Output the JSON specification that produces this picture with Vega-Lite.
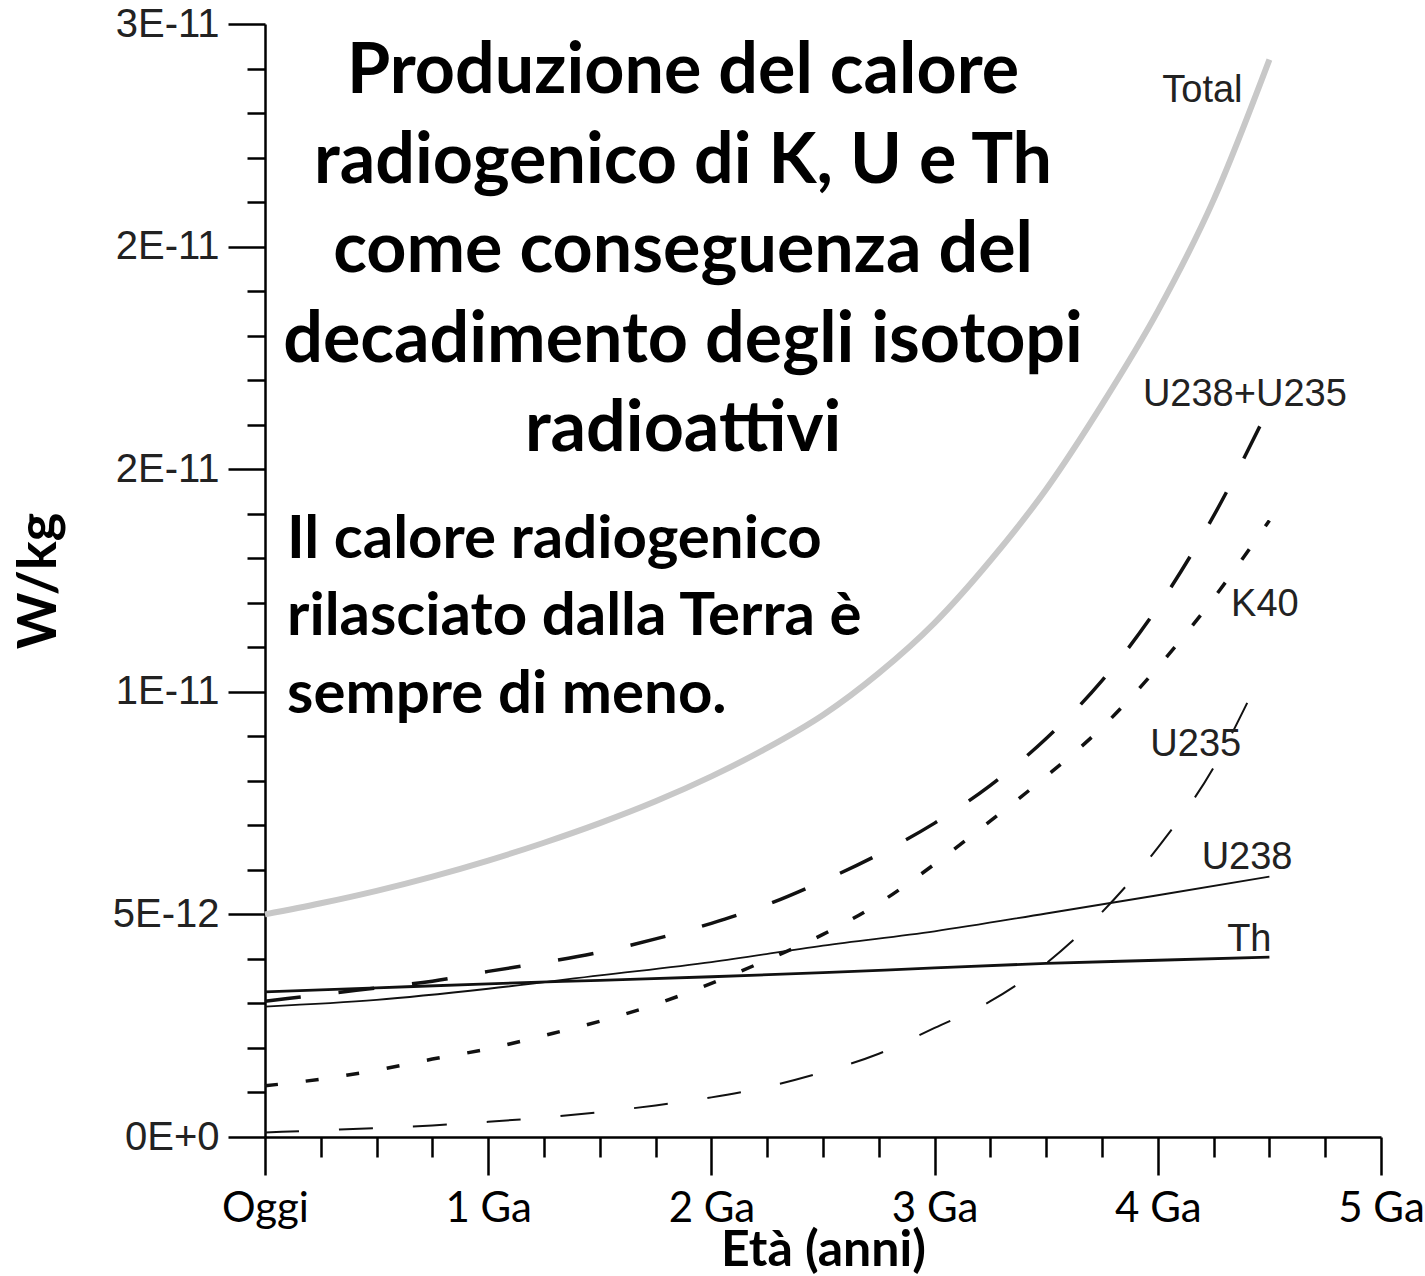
{
  "$schema": "https://vega.github.io/schema/vega-lite/v6.json",
  "width": 1116,
  "height": 1113,
  "autosize": {"type": "none"},
  "padding": {"left": 265, "top": 24, "right": 44, "bottom": 139},
  "background": "white",
  "config": {"view": {"stroke": null}, "axis": {"grid": false}},
  "datasets": {
    "curves": [
      {"series": "Total", "age": 0, "w": 5.0e-12},
      {"series": "Total", "age": 0.25, "w": 5.25e-12},
      {"series": "Total", "age": 0.5, "w": 5.53e-12},
      {"series": "Total", "age": 0.75, "w": 5.85e-12},
      {"series": "Total", "age": 1, "w": 6.21e-12},
      {"series": "Total", "age": 1.25, "w": 6.61e-12},
      {"series": "Total", "age": 1.5, "w": 7.05e-12},
      {"series": "Total", "age": 1.75, "w": 7.54e-12},
      {"series": "Total", "age": 2, "w": 8.1e-12},
      {"series": "Total", "age": 2.25, "w": 8.74e-12},
      {"series": "Total", "age": 2.5, "w": 9.48e-12},
      {"series": "Total", "age": 2.75, "w": 10.42e-12},
      {"series": "Total", "age": 3, "w": 11.55e-12},
      {"series": "Total", "age": 3.25, "w": 12.95e-12},
      {"series": "Total", "age": 3.5, "w": 14.55e-12},
      {"series": "Total", "age": 3.75, "w": 16.45e-12},
      {"series": "Total", "age": 4, "w": 18.55e-12},
      {"series": "Total", "age": 4.25, "w": 21.05e-12},
      {"series": "Total", "age": 4.5, "w": 24.2e-12},
      {"series": "U238+U235", "age": 0, "w": 3.05e-12},
      {"series": "U238+U235", "age": 0.25, "w": 3.2e-12},
      {"series": "U238+U235", "age": 0.5, "w": 3.35e-12},
      {"series": "U238+U235", "age": 0.75, "w": 3.5e-12},
      {"series": "U238+U235", "age": 1, "w": 3.72e-12},
      {"series": "U238+U235", "age": 1.25, "w": 3.92e-12},
      {"series": "U238+U235", "age": 1.5, "w": 4.15e-12},
      {"series": "U238+U235", "age": 1.75, "w": 4.45e-12},
      {"series": "U238+U235", "age": 2, "w": 4.8e-12},
      {"series": "U238+U235", "age": 2.25, "w": 5.22e-12},
      {"series": "U238+U235", "age": 2.5, "w": 5.75e-12},
      {"series": "U238+U235", "age": 2.75, "w": 6.35e-12},
      {"series": "U238+U235", "age": 3, "w": 7.05e-12},
      {"series": "U238+U235", "age": 3.25, "w": 7.9e-12},
      {"series": "U238+U235", "age": 3.5, "w": 8.95e-12},
      {"series": "U238+U235", "age": 3.75, "w": 10.25e-12},
      {"series": "U238+U235", "age": 4, "w": 11.9e-12},
      {"series": "U238+U235", "age": 4.25, "w": 13.95e-12},
      {"series": "U238+U235", "age": 4.5, "w": 16.4e-12},
      {"series": "K40", "age": 0, "w": 1.15e-12},
      {"series": "K40", "age": 0.25, "w": 1.3e-12},
      {"series": "K40", "age": 0.5, "w": 1.5e-12},
      {"series": "K40", "age": 0.75, "w": 1.75e-12},
      {"series": "K40", "age": 1, "w": 1.98e-12},
      {"series": "K40", "age": 1.25, "w": 2.28e-12},
      {"series": "K40", "age": 1.5, "w": 2.6e-12},
      {"series": "K40", "age": 1.75, "w": 2.98e-12},
      {"series": "K40", "age": 2, "w": 3.45e-12},
      {"series": "K40", "age": 2.25, "w": 3.98e-12},
      {"series": "K40", "age": 2.5, "w": 4.55e-12},
      {"series": "K40", "age": 2.75, "w": 5.25e-12},
      {"series": "K40", "age": 3, "w": 6.13e-12},
      {"series": "K40", "age": 3.25, "w": 7.1e-12},
      {"series": "K40", "age": 3.5, "w": 8.1e-12},
      {"series": "K40", "age": 3.75, "w": 9.2e-12},
      {"series": "K40", "age": 4, "w": 10.55e-12},
      {"series": "K40", "age": 4.25, "w": 12.1e-12},
      {"series": "K40", "age": 4.5, "w": 13.85e-12},
      {"series": "U235", "age": 0, "w": 0.1e-12},
      {"series": "U235", "age": 0.25, "w": 0.15e-12},
      {"series": "U235", "age": 0.5, "w": 0.2e-12},
      {"series": "U235", "age": 0.75, "w": 0.26e-12},
      {"series": "U235", "age": 1, "w": 0.34e-12},
      {"series": "U235", "age": 1.25, "w": 0.44e-12},
      {"series": "U235", "age": 1.5, "w": 0.56e-12},
      {"series": "U235", "age": 1.75, "w": 0.71e-12},
      {"series": "U235", "age": 2, "w": 0.89e-12},
      {"series": "U235", "age": 2.25, "w": 1.13e-12},
      {"series": "U235", "age": 2.5, "w": 1.46e-12},
      {"series": "U235", "age": 2.75, "w": 1.87e-12},
      {"series": "U235", "age": 3, "w": 2.45e-12},
      {"series": "U235", "age": 3.25, "w": 3.05e-12},
      {"series": "U235", "age": 3.5, "w": 3.9e-12},
      {"series": "U235", "age": 3.75, "w": 5.05e-12},
      {"series": "U235", "age": 4, "w": 6.5e-12},
      {"series": "U235", "age": 4.25, "w": 8.3e-12},
      {"series": "U235", "age": 4.42, "w": 9.95e-12},
      {"series": "U238", "age": 0, "w": 2.93e-12},
      {"series": "U238", "age": 0.5, "w": 3.08e-12},
      {"series": "U238", "age": 1, "w": 3.33e-12},
      {"series": "U238", "age": 1.5, "w": 3.63e-12},
      {"series": "U238", "age": 2, "w": 3.93e-12},
      {"series": "U238", "age": 2.5, "w": 4.3e-12},
      {"series": "U238", "age": 3, "w": 4.62e-12},
      {"series": "U238", "age": 3.5, "w": 5.02e-12},
      {"series": "U238", "age": 4, "w": 5.43e-12},
      {"series": "U238", "age": 4.5, "w": 5.85e-12},
      {"series": "Th", "age": 0, "w": 3.26e-12},
      {"series": "Th", "age": 0.5, "w": 3.35e-12},
      {"series": "Th", "age": 1, "w": 3.44e-12},
      {"series": "Th", "age": 1.5, "w": 3.52e-12},
      {"series": "Th", "age": 2, "w": 3.6e-12},
      {"series": "Th", "age": 2.5, "w": 3.69e-12},
      {"series": "Th", "age": 3, "w": 3.8e-12},
      {"series": "Th", "age": 3.5, "w": 3.9e-12},
      {"series": "Th", "age": 4, "w": 3.97e-12},
      {"series": "Th", "age": 4.5, "w": 4.04e-12}
    ],
    "labels": [
      {"name": "Total", "x": 4.2, "y": 23.5e-12},
      {"name": "U238+U235", "x": 4.39, "y": 16.67e-12},
      {"name": "K40", "x": 4.48, "y": 11.95e-12},
      {"name": "U235", "x": 4.17, "y": 8.8e-12},
      {"name": "U238", "x": 4.4, "y": 6.27e-12},
      {"name": "Th", "x": 4.41, "y": 4.42e-12}
    ]
  },
  "layer": [
    {
      "data": {"name": "curves"},
      "transform": [{"filter": "datum.series === 'Total'"}],
      "mark": {"type": "line", "interpolate": "monotone", "color": "#c8c8c8", "strokeWidth": 6},
      "encoding": {
        "x": {
          "field": "age", "type": "quantitative",
          "scale": {"domain": [0, 5], "nice": false, "zero": false},
          "axis": {
            "values": [0, 0.25, 0.5, 0.75, 1, 1.25, 1.5, 1.75, 2, 2.25, 2.5, 2.75, 3, 3.25, 3.5, 3.75, 4, 4.25, 4.5, 4.75, 5],
            "title": "Età (anni)",
            "titleFont": "Lato", "titleFontWeight": "bold", "titleFontSize": 50, "titleColor": "black", "titlePadding": -4,
            "labelExpr": "datum.value == 0 ? 'Oggi' : (abs(datum.value - round(datum.value)) < 0.001 ? format(datum.value, 'd') + ' Ga' : '')",
            "labelFont": "Lato", "labelFontSize": 42, "labelColor": "black", "labelPadding": 13,
            "labelFlush": false, "labelOverlap": false, "labelBound": false,
            "tickSize": {"condition": {"test": "abs(datum.value - round(datum.value)) < 0.001", "value": 38}, "value": 20},
            "tickColor": "black", "tickWidth": 2.5,
            "domainColor": "black", "domainWidth": 2.5,
            "grid": false
          }
        },
        "y": {
          "field": "w", "type": "quantitative",
          "scale": {"domain": [0, 2.5e-11], "nice": false},
          "axis": {
            "values": [0, 1e-12, 2e-12, 3e-12, 4e-12, 5e-12, 6e-12, 7e-12, 8e-12, 9e-12, 1e-11, 1.1e-11, 1.2e-11, 1.3e-11, 1.4e-11, 1.5e-11, 1.6e-11, 1.7e-11, 1.8e-11, 1.9e-11, 2e-11, 2.1e-11, 2.2e-11, 2.3e-11, 2.4e-11, 2.5e-11],
            "title": "W/kg",
            "titleFont": "Lato", "titleFontWeight": "bold", "titleFontSize": 54, "titleColor": "black", "titlePadding": 46,
            "labelExpr": "datum.value < 1e-14 ? '0E+0' : abs(datum.value - 5e-12) < 1e-14 ? '5E-12' : abs(datum.value - 1e-11) < 1e-14 ? '1E-11' : abs(datum.value - 1.5e-11) < 1e-14 ? '2E-11' : abs(datum.value - 2e-11) < 1e-14 ? '2E-11' : abs(datum.value - 2.5e-11) < 1e-14 ? '3E-11' : ''",
            "labelFont": "Liberation Sans", "labelFontSize": 40, "labelColor": "#222222", "labelPadding": 9,
            "labelFlush": false, "labelOverlap": false, "labelBound": false,
            "tickSize": {"condition": {"test": "abs(datum.value / 5e-12 - round(datum.value / 5e-12)) < 0.01", "value": 37}, "value": 18},
            "tickColor": "black", "tickWidth": 2.5,
            "domainColor": "black", "domainWidth": 2.5,
            "grid": false
          }
        }
      }
    },
    {
      "data": {"name": "curves"},
      "transform": [{"filter": "datum.series === 'U238+U235'"}],
      "mark": {"type": "line", "interpolate": "monotone", "color": "#111111", "strokeWidth": 3.5, "strokeDash": [36, 38]},
      "encoding": {"x": {"field": "age", "type": "quantitative"}, "y": {"field": "w", "type": "quantitative"}}
    },
    {
      "data": {"name": "curves"},
      "transform": [{"filter": "datum.series === 'K40'"}],
      "mark": {"type": "line", "interpolate": "monotone", "color": "#111111", "strokeWidth": 3.5, "strokeDash": [13, 28]},
      "encoding": {"x": {"field": "age", "type": "quantitative"}, "y": {"field": "w", "type": "quantitative"}}
    },
    {
      "data": {"name": "curves"},
      "transform": [{"filter": "datum.series === 'U235'"}],
      "mark": {"type": "line", "interpolate": "monotone", "color": "#111111", "strokeWidth": 2, "strokeDash": [34, 40]},
      "encoding": {"x": {"field": "age", "type": "quantitative"}, "y": {"field": "w", "type": "quantitative"}}
    },
    {
      "data": {"name": "curves"},
      "transform": [{"filter": "datum.series === 'U238'"}],
      "mark": {"type": "line", "interpolate": "monotone", "color": "#111111", "strokeWidth": 1.8},
      "encoding": {"x": {"field": "age", "type": "quantitative"}, "y": {"field": "w", "type": "quantitative"}}
    },
    {
      "data": {"name": "curves"},
      "transform": [{"filter": "datum.series === 'Th'"}],
      "mark": {"type": "line", "interpolate": "monotone", "color": "#111111", "strokeWidth": 2.8},
      "encoding": {"x": {"field": "age", "type": "quantitative"}, "y": {"field": "w", "type": "quantitative"}}
    },
    {
      "data": {"name": "labels"},
      "mark": {"type": "text", "font": "Liberation Sans", "fontSize": 38, "color": "#222222", "align": "center", "baseline": "middle"},
      "encoding": {
        "x": {"field": "x", "type": "quantitative"},
        "y": {"field": "y", "type": "quantitative"},
        "text": {"field": "name"}
      }
    },
    {
      "data": {"values": [{}]},
      "mark": {
        "type": "text",
        "text": ["Produzione del calore", "radiogenico di K, U e Th", "come conseguenza del", "decadimento degli isotopi", "radioattivi"],
        "font": "Lato", "fontWeight": "bold", "fontSize": 70, "lineHeight": 89.5,
        "align": "center", "baseline": "middle", "color": "black"
      },
      "encoding": {"x": {"datum": 1.873}, "y": {"datum": 2.392e-11}}
    },
    {
      "data": {"values": [{}]},
      "mark": {
        "type": "text",
        "text": ["Il calore radiogenico", "rilasciato dalla Terra è", "sempre di meno."],
        "font": "Lato", "fontWeight": "bold", "fontSize": 60, "lineHeight": 77.5,
        "align": "left", "baseline": "middle", "color": "black"
      },
      "encoding": {"x": {"datum": 0.0986}, "y": {"datum": 1.341e-11}}
    }
  ]
}
